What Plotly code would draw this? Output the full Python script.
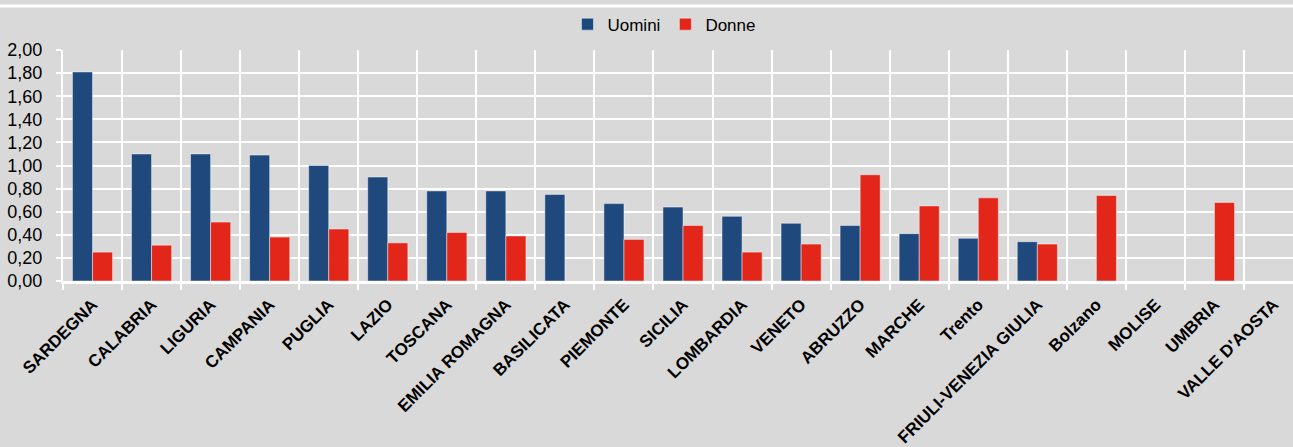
import plotly.graph_objects as go

regioni = [
    "SARDEGNA", "CALABRIA", "LIGURIA", "CAMPANIA", "PUGLIA", "LAZIO", "TOSCANA",
    "EMILIA ROMAGNA", "BASILICATA", "PIEMONTE", "SICILIA", "LOMBARDIA", "VENETO",
    "ABRUZZO", "MARCHE", "Trento", "FRIULI-VENEZIA GIULIA", "Bolzano", "MOLISE",
    "UMBRIA", "VALLE D'AOSTA",
]
uomini = [1.81, 1.10, 1.10, 1.09, 1.00, 0.90, 0.78, 0.78, 0.75, 0.67, 0.64,
          0.56, 0.50, 0.48, 0.41, 0.37, 0.34, None, None, None, None]
donne = [0.25, 0.31, 0.51, 0.38, 0.45, 0.33, 0.42, 0.39, None, 0.36, 0.48,
         0.25, 0.32, 0.92, 0.65, 0.72, 0.32, 0.74, None, 0.68, None]

FONT = "Liberation Sans, Arial, sans-serif"
BG = "#d9d9d9"

fig = go.Figure()
fig.add_trace(go.Bar(
    x=regioni, y=uomini, name="Uomini",
    marker=dict(color="#1f497d", line=dict(color="rgba(255,255,255,0.45)", width=1)),
))
fig.add_trace(go.Bar(
    x=regioni, y=donne, name="Donne",
    marker=dict(color="#e3261a", line=dict(color="rgba(255,255,255,0.45)", width=1)),
))

# white rule across the top of the frame
fig.add_shape(type="line", xref="paper", yref="paper", x0=-0.1, x1=1.1, y0=1.19, y1=1.19,
              line=dict(color="white", width=3))

fig.update_xaxes(
    range=[-0.5, 20.33],
    tickson="boundaries",
    showgrid=True, gridcolor="white", gridwidth=1.5,
    showline=True, linecolor="white", linewidth=3,
    ticks="outside", tickcolor="white", ticklen=6, tickwidth=2,
    tickangle=-45,
    ticklabelstandoff=4,
    tickfont=dict(family=FONT, size=17, color="black", weight="bold"),
)
fig.update_yaxes(
    range=[0, 2.0], dtick=0.2, tickformat=".2f",
    showgrid=True, gridcolor="white", gridwidth=1.5,
    showline=True, linecolor="white", linewidth=2,
    ticks="outside", tickcolor="white", ticklen=5, tickwidth=2,
    ticklabelstandoff=10,
    tickfont=dict(family=FONT, size=18, color="black"),
    zeroline=False,
)

fig.update_layout(
    width=1293, height=447,
    paper_bgcolor=BG, plot_bgcolor=BG,
    separators=",.",
    barmode="group", bargap=0.32, bargroupgap=0,
    margin=dict(l=63, r=0, t=50, b=166),
    font=dict(family=FONT, color="black"),
    legend=dict(
        orientation="h", x=0.489, xanchor="center", xref="paper",
        y=1.11, yanchor="middle",
        font=dict(family=FONT, size=17, color="black"),
        bgcolor="rgba(0,0,0,0)",
        itemwidth=30,
    ),
    showlegend=True,
)

fig.write_html(
    "out.html",
    config={"displayModeBar": False},
    post_script="document.body.style.margin='0';document.body.style.overflow='hidden';",
)
